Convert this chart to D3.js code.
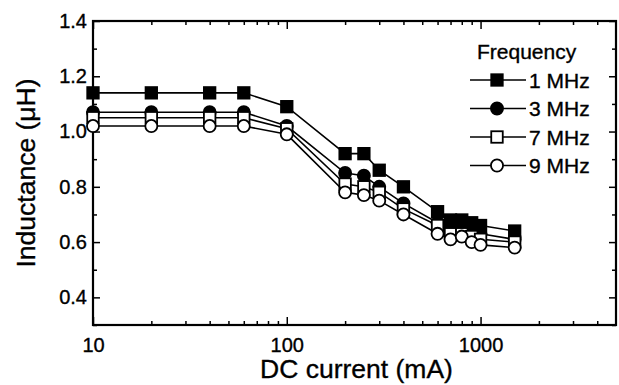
<!DOCTYPE html>
<html>
<head>
<meta charset="utf-8">
<script src="https://cdn.jsdelivr.net/npm/d3@7"></script>
<style>
  body { margin: 0; background: #fff; }
  svg { display: block; font-family: "Liberation Sans", Arial, sans-serif; }
  svg text { stroke: #000; stroke-width: 0.35px; fill: #000; }
</style>
</head>
<body>
<div id="chart"></div>
<script>
// DC current (mA)
const current = [10, 20, 40, 60, 100, 200, 250, 300, 400, 600, 700, 800, 900, 1000, 1500];

// inductance (uH) per frequency
const l1MHz = [1.14, 1.14, 1.14, 1.14, 1.09, 0.92, 0.92, 0.86, 0.80, 0.71, 0.68, 0.68, 0.67, 0.66, 0.64];
const l3MHz = [1.07, 1.07, 1.07, 1.07, 1.02, 0.85, 0.84, 0.80, 0.74, 0.67, 0.65, 0.65, 0.64, 0.63, 0.61];
const l7MHz = [1.05, 1.05, 1.05, 1.05, 1.01, 0.81, 0.80, 0.78, 0.72, 0.66, 0.63, 0.63, 0.62, 0.61, 0.60];
const l9MHz = [1.02, 1.02, 1.02, 1.02, 0.99, 0.78, 0.77, 0.75, 0.70, 0.63, 0.61, 0.62, 0.60, 0.59, 0.58];

const seriesNames = ['1 MHz', '3 MHz', '7 MHz', '9 MHz'];
const seriesValues = [l1MHz, l3MHz, l7MHz, l9MHz];
const markerKind = ['square', 'circle', 'square', 'circle'];
const markerFilled = [true, true, false, false];

const xMajorTicks = [10, 100, 1000];
const yMajorTicks = [0.4, 0.6, 0.8, 1.0, 1.2, 1.4];
const yMinorTicks = [0.3, 0.5, 0.7, 0.9, 1.1, 1.3];

const W = 619, H = 385;
const margin = { top: 21, right: 3, bottom: 60, left: 93 };
const width = W - margin.left - margin.right;
const height = H - margin.top - margin.bottom;

const svg = d3.select('#chart').append('svg')
    .attr('width', W)
    .attr('height', H);

const g = svg.append('g')
    .attr('transform', `translate(${margin.left},${margin.top})`);

const x = d3.scaleLog().domain([10, 5000]).range([0, width]);
const y = d3.scaleLinear().domain([0.3, 1.4]).range([height, 0]);

// minor x ticks 2..9 per decade
const xMinorTicks = [];
[10, 100, 1000].forEach(d => {
    for (let k = 2; k <= 9; k++) {
        if (d * k < 5000) xMinorTicks.push(d * k);
    }
});

const styleAxis = sel => {
    sel.select('.domain').remove();
    sel.selectAll('line').attr('stroke', '#000').attr('stroke-width', 1.5);
};

// bottom
g.append('g').attr('transform', `translate(0,${height})`)
    .call(d3.axisBottom(x).tickValues(xMajorTicks).tickSize(-8).tickPadding(9).tickFormat(d3.format('d')))
    .call(styleAxis)
    .selectAll('text').attr('font-size', 20).attr('dy', '0.9em');
g.append('g').attr('transform', `translate(0,${height})`)
    .call(d3.axisBottom(x).tickValues(xMinorTicks).tickSize(-4).tickFormat(''))
    .call(styleAxis);
// top
g.append('g')
    .call(d3.axisTop(x).tickValues(xMajorTicks).tickSize(-8).tickFormat(''))
    .call(styleAxis);
g.append('g')
    .call(d3.axisTop(x).tickValues(xMinorTicks).tickSize(-4).tickFormat(''))
    .call(styleAxis);
// left
g.append('g')
    .call(d3.axisLeft(y).tickValues(yMajorTicks).tickSize(-7).tickPadding(6).tickFormat(d3.format('.1f')))
    .call(styleAxis)
    .selectAll('text').attr('font-size', 20);
g.append('g')
    .call(d3.axisLeft(y).tickValues(yMinorTicks).tickSize(-4).tickFormat(''))
    .call(styleAxis);
// right
g.append('g').attr('transform', `translate(${width},0)`)
    .call(d3.axisRight(y).tickValues(yMajorTicks).tickSize(-7).tickFormat(''))
    .call(styleAxis);
g.append('g').attr('transform', `translate(${width},0)`)
    .call(d3.axisRight(y).tickValues(yMinorTicks).tickSize(-4).tickFormat(''))
    .call(styleAxis);

// frame
g.append('rect')
    .attr('width', width)
    .attr('height', height)
    .attr('fill', 'none')
    .attr('stroke', '#000')
    .attr('stroke-width', 2.2);

// axis titles
svg.append('text')
    .attr('x', margin.left + width / 2 + 2)
    .attr('y', 378)
    .attr('text-anchor', 'middle')
    .attr('font-size', 26.5)
    .text('DC current (mA)');

svg.append('text')
    .attr('transform', `translate(35,${margin.top + height / 2}) rotate(-90)`)
    .attr('text-anchor', 'middle')
    .attr('font-size', 26.5)
    .text('Inductance (\u03bcH)');

const drawMarker = (sel, kind, filled) => {
    const s = 11.5;
    if (kind === 'square') {
        sel.append('rect')
            .attr('x', -s / 2).attr('y', -s / 2)
            .attr('width', s).attr('height', s);
    } else {
        sel.append('circle').attr('r', s / 2 + 0.3);
    }
    sel.selectAll('rect, circle')
        .attr('fill', filled ? '#000' : '#fff')
        .attr('stroke', '#000')
        .attr('stroke-width', 1.8);
};

const line = d3.line()
    .x(d => x(d[0]))
    .y(d => y(d[1]));

seriesValues.forEach((vals, i) => {
    const pts = current.map((c, j) => [c, vals[j]]);
    g.append('path')
        .datum(pts)
        .attr('d', line)
        .attr('fill', 'none')
        .attr('stroke', '#000')
        .attr('stroke-width', 1.6);
    g.selectAll(`.m${i}`)
        .data(pts)
        .enter()
        .append('g')
        .attr('class', `m${i}`)
        .attr('transform', d => `translate(${x(d[0])},${y(d[1])})`)
        .each(function () { drawMarker(d3.select(this), markerKind[i], markerFilled[i]); });
});

// legend
const legend = svg.append('g');
legend.append('text')
    .attr('x', 477)
    .attr('y', 59)
    .attr('font-size', 21)
    .text('Frequency');

seriesNames.forEach((name, i) => {
    const ly = 80 + i * 28.5;
    const row = legend.append('g').attr('transform', `translate(0,${ly})`);
    row.append('line')
        .attr('x1', 470).attr('x2', 526)
        .attr('stroke', '#000').attr('stroke-width', 1.5);
    const mk = row.append('g').attr('transform', 'translate(497,0)');
    drawMarker(mk, markerKind[i], markerFilled[i]);
    row.append('text')
        .attr('x', 529)
        .attr('y', 7.5)
        .attr('font-size', 21)
        .text(name);
});
</script>
</body>
</html>
